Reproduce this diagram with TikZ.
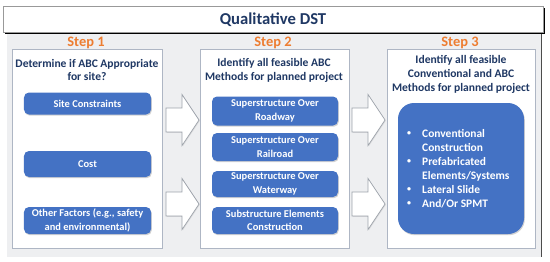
\documentclass[tikz,border=0pt]{standalone}
\usepackage{fontspec}
\setmainfont{Carlito}
\usetikzlibrary{shadows}
\definecolor{navy}{HTML}{1F3864}
\definecolor{stepor}{HTML}{ED7D31}
\definecolor{btnblue}{HTML}{4472C4}
\definecolor{panelgrey}{HTML}{EEEFF1}
\definecolor{boxedge}{HTML}{AEB6C4}
\definecolor{arrowedge}{HTML}{9DA3AB}
\tikzset{
  stepbox/.style={draw=boxedge, line width=0.8pt, fill=white},
  steplabel/.style={text=stepor, font=\bfseries\fontsize{14.5}{16}\selectfont},
  headtext/.style={text=navy, font=\bfseries\fontsize{11.6}{14}\selectfont, align=center},
  btn/.style={fill=btnblue, rounded corners=5bp, text=white, align=center,
    font=\bfseries\fontsize{10.5}{13}\selectfont, inner sep=0pt,
    drop shadow={shadow xshift=0.8bp, shadow yshift=-1.2bp, opacity=0.35}},
  blockarrow/.style={draw=arrowedge, line width=0.7pt, fill=white}
}
\begin{document}
\begin{tikzpicture}[x=1bp,y=-1bp]
\useasboundingbox (0,0) rectangle (550,261);
\fill[white] (0,0) rectangle (550,261);
% grey panel
\fill[panelgrey] (7,32) rectangle (541,257);
\draw[black!70, line width=1pt] (541,32) -- (541,257);
% title
\fill[black] (5,8) rectangle (545,34);
\draw[fill=white, draw=black!40] (3,6) rectangle (543,32);
\node[text=navy, font=\bfseries\fontsize{16.7}{19}\selectfont] (title) at (273,19.5) {Qualitative DST};
% step boxes
\draw[stepbox] (12,49) rectangle (162,248);
\draw[stepbox] (200,49) rectangle (349,248);
\draw[stepbox] (387,49) rectangle (535,248);
\node[steplabel] (s1) at (86,43) {Step 1};
\node[steplabel] (s2) at (273,43) {Step 2};
\node[steplabel] (s3) at (460,43) {Step 3};
\node[headtext] (h1) at (87,70) {Determine if ABC Appropriate\\for site?};
\node[headtext] (h2) at (274,70) {Identify all feasible ABC\\Methods for planned project};
\node[headtext] (h3) at (461,74) {Identify all feasible\\Conventional and ABC\\Methods for planned project};
% step 1 buttons
\node[btn, minimum width=127bp, minimum height=22bp] (b11) at (87.5,103.5) {Site Constraints};
\node[btn, minimum width=127bp, minimum height=26bp] (b12) at (87.5,164) {Cost};
\node[btn, minimum width=127bp, minimum height=27bp, font=\bfseries\fontsize{10.5}{13.5}\selectfont] (b13) at (87.5,220.5) {Other Factors (e.g., safety\\and environmental)};
% step 2 buttons
\tikzset{btn2/.style={btn, minimum width=126bp, minimum height=27bp, font=\bfseries\fontsize{10.5}{13.5}\selectfont}}
\node[btn2, minimum height=29bp] (b21) at (275,111) {Superstructure Over\\Roadway};
\node[btn2, minimum height=28bp] (b22) at (275,147) {Superstructure Over\\Railroad};
\node[btn2, minimum height=26bp] (b23) at (275,184) {Superstructure Over\\Waterway};
\node[btn2, minimum height=27bp] (b24) at (275,220.5) {Substructure Elements\\Construction};
% step 3 big box
\node[btn, rounded corners=16bp, minimum width=126bp, minimum height=131bp] (b3) at (461,168.5) {};
\begin{scope}[every node/.style={text=white, font=\bfseries\fontsize{11.5}{14}\selectfont, anchor=west, inner sep=0pt}]
\node (t1) at (422,134) {Conventional};
\node (t2) at (422,148) {Construction};
\node (t3) at (422,162) {Prefabricated};
\node (t4) at (422,176) {Elements/Systems};
\node (t5) at (422,190) {Lateral Slide};
\node (t6) at (422,204) {And/Or SPMT};
\node[font=\bfseries\fontsize{8}{10}\selectfont] (d1) at (407,134) {•};
\node[font=\bfseries\fontsize{8}{10}\selectfont] (d2) at (407,162) {•};
\node[font=\bfseries\fontsize{8}{10}\selectfont] (d3) at (407,190) {•};
\node[font=\bfseries\fontsize{8}{10}\selectfont] (d4) at (407,204) {•};
\end{scope}
% block arrows
\foreach \cx/\cy in {166/120, 166/204, 352/120, 352/204}{
  \draw[blockarrow, drop shadow={shadow xshift=0.8bp, shadow yshift=-0.8bp, opacity=0.2}]
    (\cx,\cy-12) -- ++(16,0) -- ++(0,-13.5) -- ++(17,25.5) -- ++(-17,25.5) -- ++(0,-13.5) -- ++(-16,0) -- cycle;
}
\end{tikzpicture}
\end{document}
